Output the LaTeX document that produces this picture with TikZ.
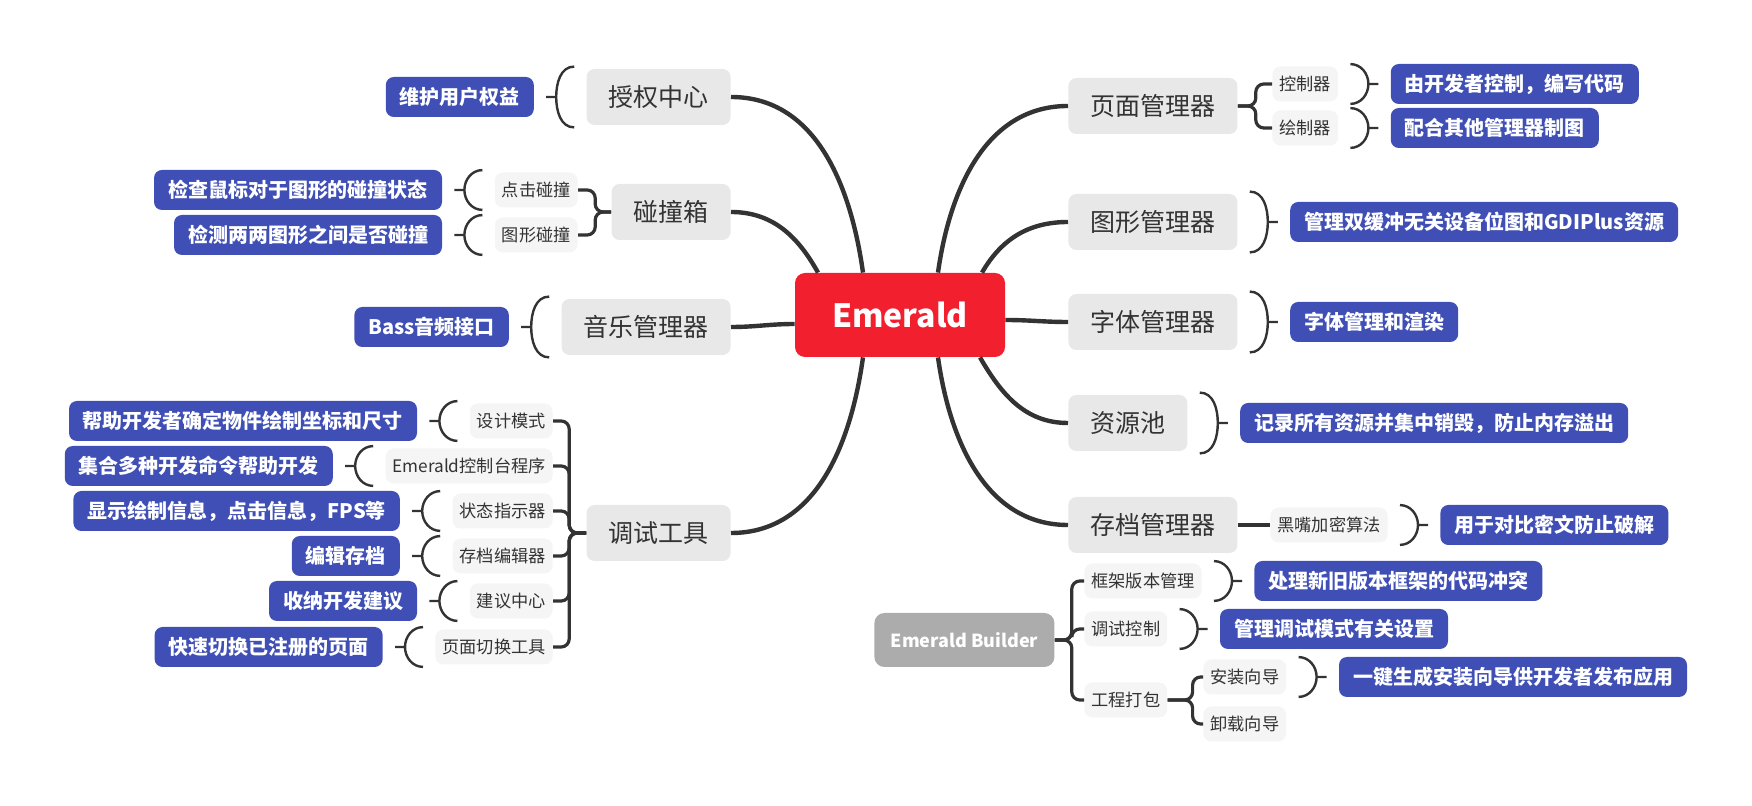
\documentclass[tikz,border=0pt]{standalone}
\usepackage{fontspec}
\setmainfont{Noto Sans CJK SC}
\usetikzlibrary{calc}

\definecolor{rootred}{HTML}{F2202F}
\definecolor{topicgray}{HTML}{E8E8E8}
\definecolor{subgray}{HTML}{F6F5F5}
\definecolor{noteblue}{HTML}{3F4FB5}
\definecolor{floatgray}{HTML}{ACACAC}
\definecolor{linedark}{HTML}{333333}
\definecolor{textdark}{HTML}{333333}

% "(" bracket west of #1, stub pointing to #2
\newcommand\bracel[2]{%
  \draw[brace] ($(#1.north west)+(-12,2)$) to[out=180,in=90] ($(#1.west)+(-30,0)$)
    to[out=-90,in=180] ($(#1.south west)+(-12,-2)$)
    ($(#1.west)+(-30,0)$) -- ($(#2.east)+(12,0)$);}
% ")" bracket east of #1, stub pointing to #2
\newcommand\bracer[2]{%
  \draw[brace] ($(#1.north east)+(12,2)$) to[out=0,in=90] ($(#1.east)+(30,0)$)
    to[out=-90,in=0] ($(#1.south east)+(12,-2)$)
    ($(#1.east)+(30,0)$) -- ($(#2.west)+(-12,0)$);}

\begin{document}
\begin{tikzpicture}[x=0.5pt,y=0.5pt,
    root/.style={fill=rootred, text=white, rounded corners=5pt,
      font=\fontsize{16}{19}\selectfont\bfseries, minimum width=105pt, minimum height=42pt},
    topic/.style={fill=topicgray, text=textdark, rounded corners=4pt,
      font=\fontsize{12.5}{15}\selectfont, inner xsep=11pt, minimum height=28pt},
    subtopic/.style={fill=subgray, text=textdark, rounded corners=4pt,
      font=\fontsize{8.6}{10}\selectfont, inner xsep=3.5pt, minimum height=17.5pt},
    note/.style={fill=noteblue, text=white, rounded corners=4pt,
      font=\fontsize{10}{12}\selectfont\bfseries, inner xsep=7pt, minimum height=20pt},
    floating/.style={fill=floatgray, text=white, rounded corners=5pt,
      font=\fontsize{9}{11}\selectfont\bfseries, minimum width=90pt, minimum height=27pt},
    trunk/.style={draw=linedark, line width=2.2pt},
    sub/.style={draw=linedark, line width=1.6pt, rounded corners=4pt},
    brace/.style={draw=linedark, line width=1.2pt}]
  \useasboundingbox (0,0) rectangle (1752,-806);

  % main topics
  \node[root] (root) at (900,-315) {Emerald};
  \node[topic, anchor=east] (auth) at (731,-97) {授权中心};
  \node[topic, anchor=east] (coll) at (731,-212) {碰撞箱};
  \node[topic, anchor=east] (music) at (731,-327) {音乐管理器};
  \node[topic, anchor=east] (debug) at (731,-533) {调试工具};
  \node[topic, anchor=west] (page) at (1068,-106) {页面管理器};
  \node[topic, anchor=west] (gfx) at (1068,-222) {图形管理器};
  \node[topic, anchor=west] (font) at (1068,-322) {字体管理器};
  \node[topic, anchor=west] (pool) at (1068,-423) {资源池};
  \node[topic, anchor=west] (save) at (1068,-525) {存档管理器};
  \node[floating, anchor=west] (builder) at (874,-640) {Emerald Builder};

  % subtopics
  \node[subtopic, anchor=east] (click) at (578,-190) {点击碰撞};
  \node[subtopic, anchor=east] (shape) at (578,-235) {图形碰撞};
  \node[subtopic, anchor=east] (design) at (553,-421) {设计模式};
  \node[subtopic, anchor=east] (console) at (553,-466) {Emerald控制台程序};
  \node[subtopic, anchor=east] (status) at (553,-511) {状态指示器};
  \node[subtopic, anchor=east] (saveed) at (553,-556) {存档编辑器};
  \node[subtopic, anchor=east] (advice) at (553,-601) {建议中心};
  \node[subtopic, anchor=east] (switch) at (553,-647) {页面切换工具};
  \node[subtopic, anchor=west] (ctrl) at (1272,-84) {控制器};
  \node[subtopic, anchor=west] (draw) at (1272,-128) {绘制器};
  \node[subtopic, anchor=west] (alg) at (1270,-525) {黑嘴加密算法};
  \node[subtopic, anchor=west] (frame) at (1084,-581) {框架版本管理};
  \node[subtopic, anchor=west] (dbgctl) at (1084,-629) {调试控制};
  \node[subtopic, anchor=west] (pack) at (1084,-700) {工程打包};
  \node[subtopic, anchor=west] (setup) at (1203,-677) {安装向导};
  \node[subtopic, anchor=west] (uninst) at (1203,-724) {卸载向导};

  % notes
  \node[note, anchor=east] (authd) at ($(auth.west)+(-52,0)$) {维护用户权益};
  \node[note, anchor=east] (clickd) at ($(click.west)+(-52,0)$) {检查鼠标对于图形的碰撞状态};
  \node[note, anchor=east] (shaped) at ($(shape.west)+(-52,0)$) {检测两两图形之间是否碰撞};
  \node[note, anchor=east] (musicd) at ($(music.west)+(-52,0)$) {Bass音频接口};
  \node[note, anchor=east] (designd) at ($(design.west)+(-52,0)$) {帮助开发者确定物件绘制坐标和尺寸};
  \node[note, anchor=east] (consoled) at ($(console.west)+(-52,0)$) {集合多种开发命令帮助开发};
  \node[note, anchor=east] (statusd) at ($(status.west)+(-52,0)$) {显示绘制信息，点击信息，FPS等};
  \node[note, anchor=east] (saveedd) at ($(saveed.west)+(-52,0)$) {编辑存档};
  \node[note, anchor=east] (adviced) at ($(advice.west)+(-52,0)$) {收纳开发建议};
  \node[note, anchor=east] (switchd) at ($(switch.west)+(-52,0)$) {快速切换已注册的页面};
  \node[note, anchor=west] (ctrld) at ($(ctrl.east)+(52,0)$) {由开发者控制，编写代码};
  \node[note, anchor=west] (drawd) at ($(draw.east)+(52,0)$) {配合其他管理器制图};
  \node[note, anchor=west] (gfxd) at ($(gfx.east)+(52,0)$) {管理双缓冲无关设备位图和GDIPlus资源};
  \node[note, anchor=west] (fontd) at ($(font.east)+(52,0)$) {字体管理和渲染};
  \node[note, anchor=west] (poold) at ($(pool.east)+(52,0)$) {记录所有资源并集中销毁，防止内存溢出};
  \node[note, anchor=west] (algd) at ($(alg.east)+(52,0)$) {用于对比密文防止破解};
  \node[note, anchor=west] (framed) at ($(frame.east)+(52,0)$) {处理新旧版本框架的代码冲突};
  \node[note, anchor=west] (dbgctld) at ($(dbgctl.east)+(52,0)$) {管理调试模式有关设置};
  \node[note, anchor=west] (setupd) at ($(setup.east)+(52,0)$) {一键生成安装向导供开发者发布应用};

  % branches from the root
  \draw[trunk] (auth.east) to[out=0,in=98] ($(root.north)+(-37,0)$);
  \draw[trunk] (coll.east) to[out=0,in=119] ($(root.north)+(-82,0)$);
  \draw[trunk] (music.east) to[out=0,in=180] ($(root.west)+(0,-9)$);
  \draw[trunk] (debug.east) to[out=0,in=-98] ($(root.south)+(-37,0)$);
  \draw[trunk] (page.west) to[out=180,in=82] ($(root.north)+(38,0)$);
  \draw[trunk] (gfx.west) to[out=180,in=60] ($(root.north)+(82,0)$);
  \draw[trunk] (font.west) to[out=180,in=0] ($(root.east)+(0,-5)$);
  \draw[trunk] (pool.west) to[out=180,in=-60] ($(root.south)+(80,0)$);
  \draw[trunk] (save.west) to[out=180,in=-82] ($(root.south)+(38,0)$);

  % subtopic trees
  \begin{scope}[sub]
    \draw (coll.west) -- ++(-16,0) |- (click.east);
    \draw (coll.west) -- ++(-16,0) |- (shape.east);
    \draw (debug.west) -- ++(-17,0) |- (design.east);
    \draw (debug.west) -- ++(-17,0) |- (console.east);
    \draw (debug.west) -- ++(-17,0) |- (status.east);
    \draw (debug.west) -- ++(-17,0) |- (saveed.east);
    \draw (debug.west) -- ++(-17,0) |- (advice.east);
    \draw (debug.west) -- ++(-17,0) |- (switch.east);
    \draw (page.east) -- ++(18,0) |- (ctrl.west);
    \draw (page.east) -- ++(18,0) |- (draw.west);
    \draw (save.east) -- (alg.west);
    \draw (builder.east) -- ++(17,0) |- (frame.west);
    \draw (builder.east) -- ++(17,0) |- (dbgctl.west);
    \draw (builder.east) -- ++(17,0) |- (pack.west);
    \draw (pack.east) -- ++(25,0) |- (setup.west);
    \draw (pack.east) -- ++(25,0) |- (uninst.west);
  \end{scope}

  % brackets to the notes
  \bracel{auth}{authd}
  \bracel{click}{clickd}
  \bracel{shape}{shaped}
  \bracel{music}{musicd}
  \bracel{design}{designd}
  \bracel{console}{consoled}
  \bracel{status}{statusd}
  \bracel{saveed}{saveedd}
  \bracel{advice}{adviced}
  \bracel{switch}{switchd}
  \bracer{ctrl}{ctrld}
  \bracer{draw}{drawd}
  \bracer{gfx}{gfxd}
  \bracer{font}{fontd}
  \bracer{pool}{poold}
  \bracer{alg}{algd}
  \bracer{frame}{framed}
  \bracer{dbgctl}{dbgctld}
  \bracer{setup}{setupd}
\end{tikzpicture}
\end{document}
